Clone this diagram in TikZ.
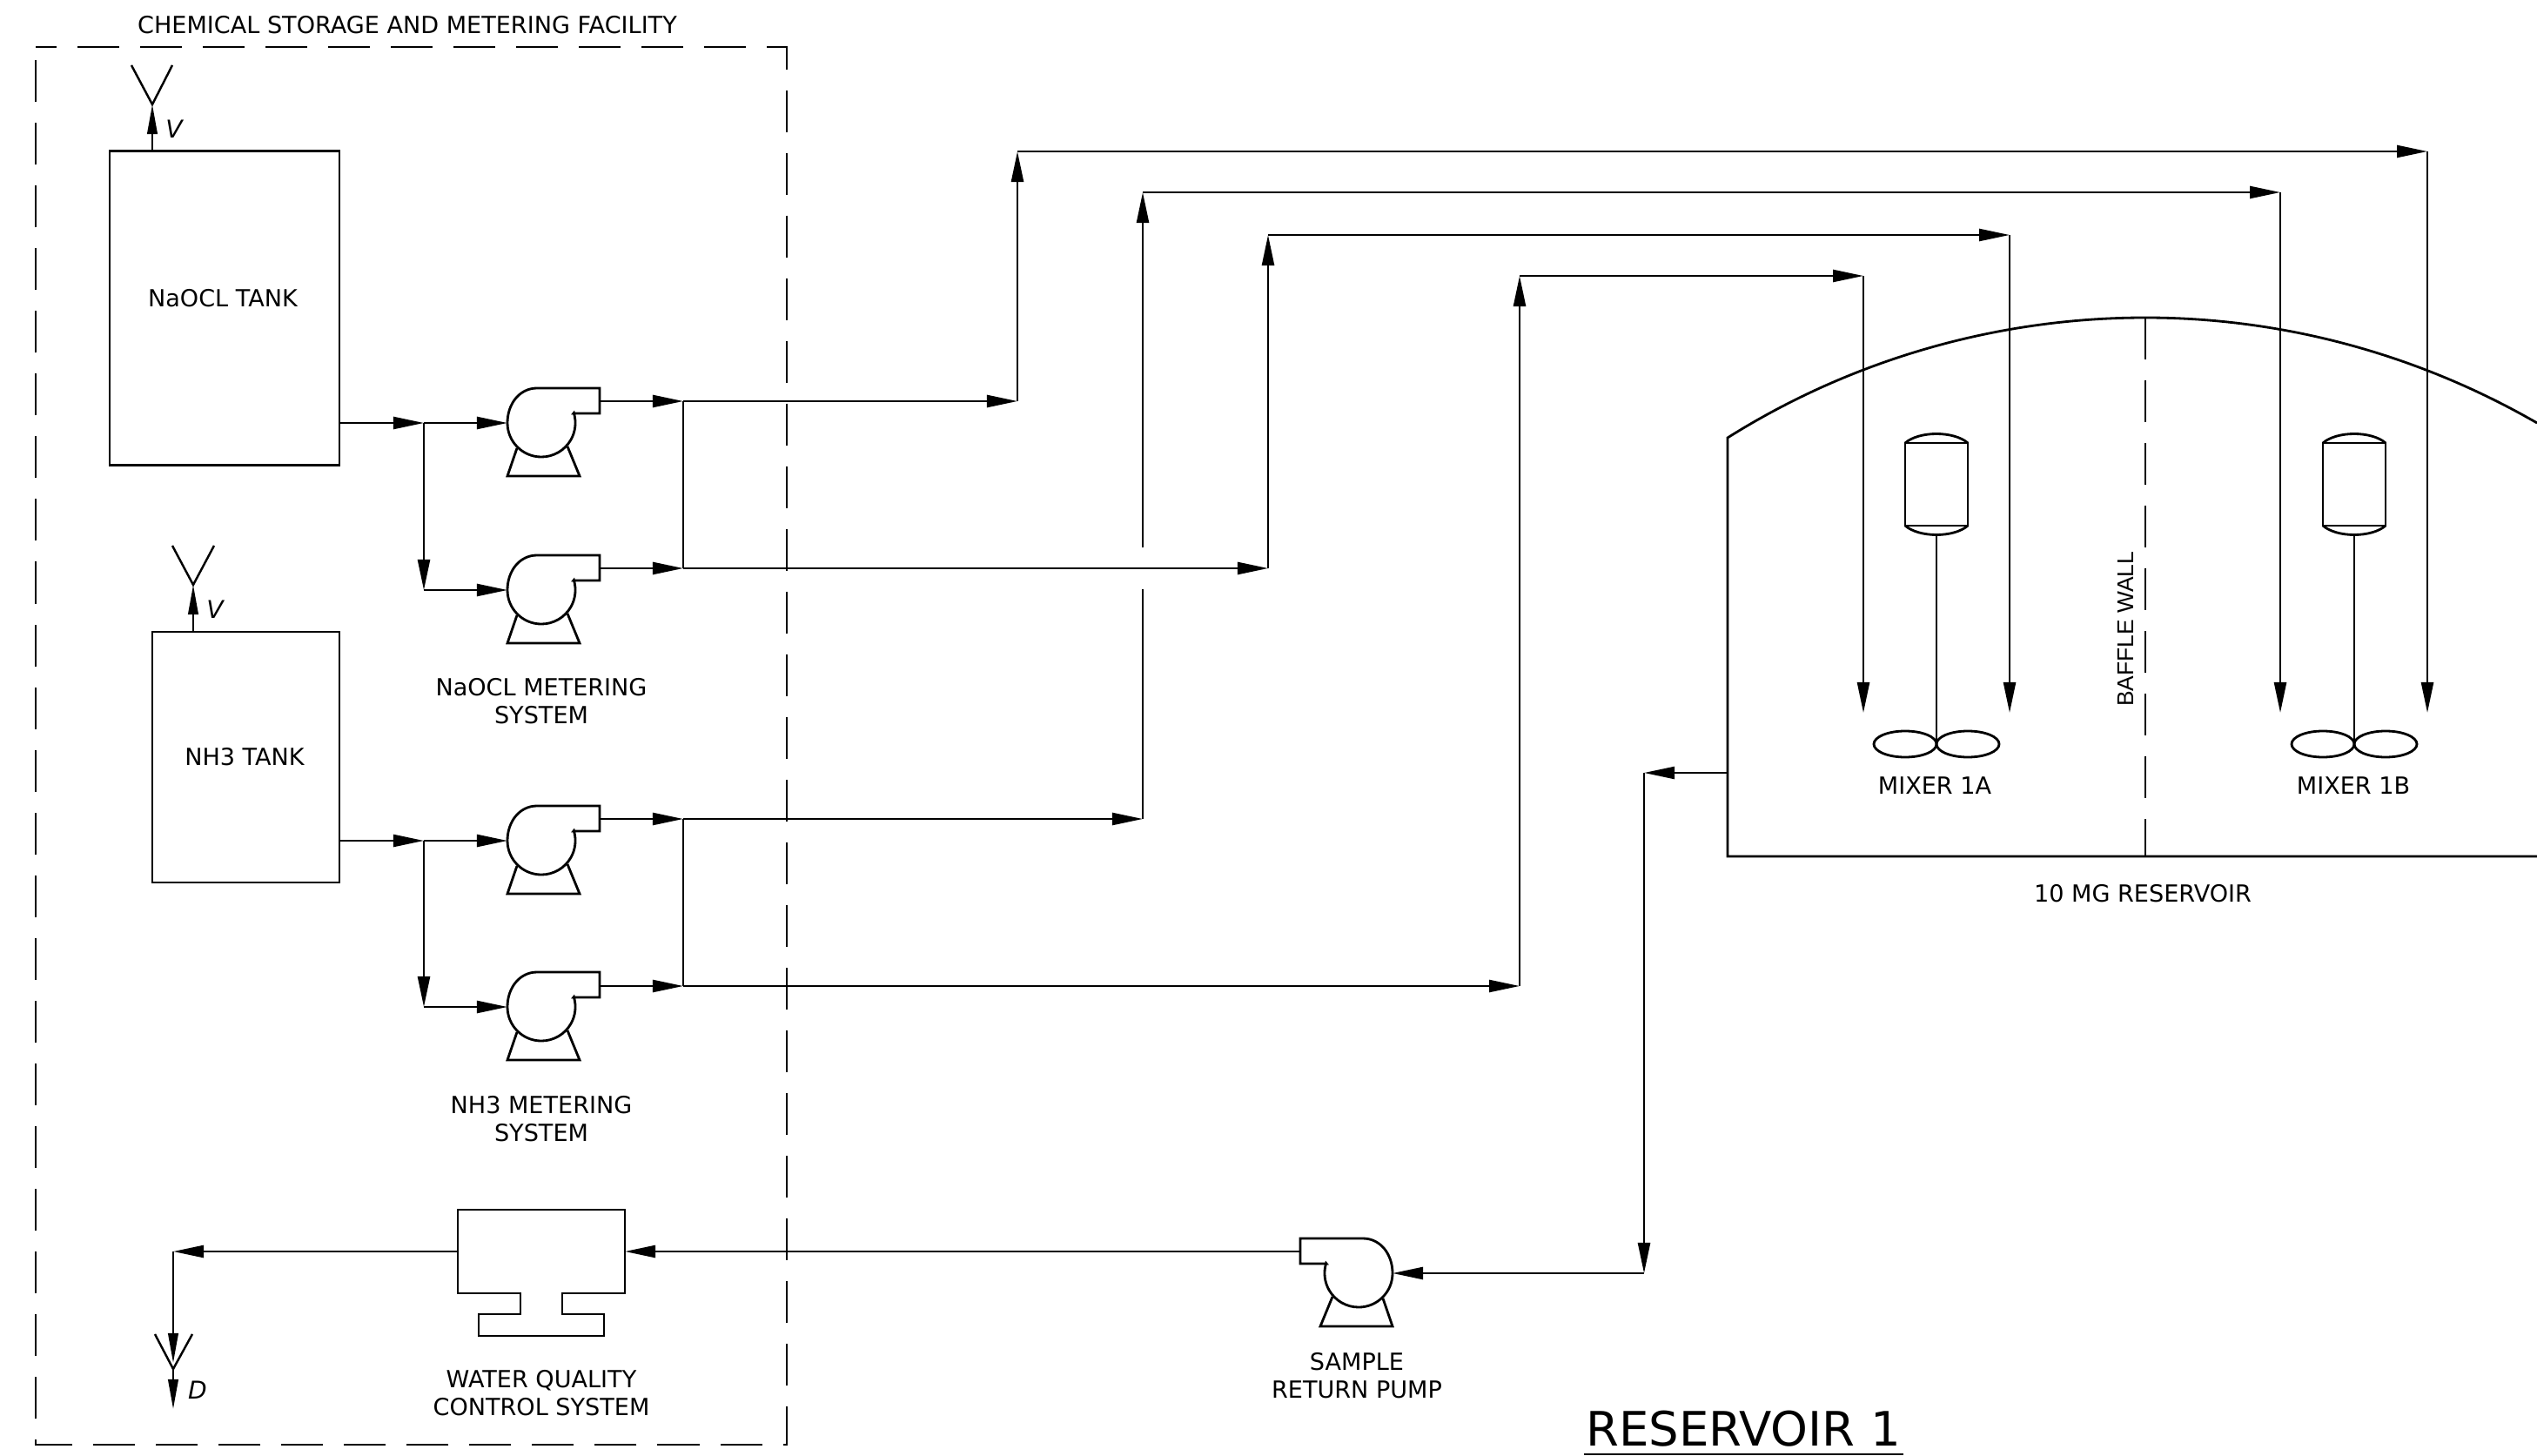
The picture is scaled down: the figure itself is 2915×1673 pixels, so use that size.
\documentclass[tikz,border=0pt]{standalone}
\usepackage{fontspec}
\setmainfont{DejaVu Sans}
\newfontfamily\bafflefont{Liberation Sans}
\usetikzlibrary{arrows.meta, positioning}

\tikzset{
    pics/pump/.style={code={
        \draw[symline] (-39,0) arc[start angle=180, end angle=377, radius=0.39cm] -- (37,-11) -- (67,-11) -- (67,-40) -- (-5,-40)
            .. controls (-25,-40) and (-39,-22) .. (-39,0) -- cycle;
        \draw[symline] (-28,29) -- (-39,61) -- (44,61) -- (30,27);
        \coordinate (-in) at (-39,0);
        \coordinate (-out) at (67,-25);
    }},
    pics/mixer/.style={code={
        \draw[symline] (-36,-105) rectangle (36,-10);
        \draw[symline] (-36,-105) .. controls (-20,-119) and (20,-119) .. (36,-105);
        \draw[symline] (-36,-10) .. controls (-20,4) and (20,4) .. (36,-10);
        \draw[symline] (0,0) -- (0,241);
        \draw[symline] (-36,241) ellipse[x radius=0.36cm, y radius=0.15cm];
        \draw[symline] (36,241) ellipse[x radius=0.36cm, y radius=0.15cm];
    }},
    pics/qualunit/.style={code={
        \draw[symline] (-96,-48) -- (96,-48) -- (96,48) -- (24,48) -- (24,72) -- (72,72) -- (72,97) -- (-72,97) -- (-72,72) -- (-24,72) -- (-24,48) -- (-96,48) -- cycle;
        \coordinate (-east) at (96,0);
        \coordinate (-west) at (-96,0);
    }}
}

\begin{document}
\begin{tikzpicture}[
    x=0.01cm, y=-0.01cm,
    symline/.style={line width=0.8pt},
    tank/.style={rectangle, draw, line width=0.8pt, inner sep=0pt, outer sep=0pt},
    lbl/.style={font=\fontsize{7.7}{9.1}\selectfont, align=center, inner sep=0pt},
    tag/.style={font=\fontsize{8}{9.1}\selectfont\itshape, inner sep=0pt},
    arrow/.style={-{Triangle[length=3.5mm,width=1.4mm]}, line width=0.7pt},
    ventarrow/.style={-{Triangle[length=3.4mm,width=1.15mm]}, line width=0.7pt},
    plainline/.style={line width=0.7pt},
    boundary/.style={line width=0.75pt, dash pattern=on 0.48cm off 0.24cm}
]
\useasboundingbox (0,0) rectangle (2915,1673);

% --- Facility boundary ---
\draw[boundary, dash phase=0.24cm] (41,54) -- (904,54) -- (904,1660) -- (41,1660) -- cycle;
\node[lbl] (facility) at (468,29) {CHEMICAL STORAGE AND METERING FACILITY};

% --- Tanks ---
\node[tank, minimum width=2.64cm, minimum height=3.6cm] (naocl) at (258,354) {};
\node[lbl] (naocllbl) at (256,343) {NaOCL TANK};
\node[tank, minimum width=2.15cm, minimum height=2.88cm] (nh3) at (282.5,870) {};
\node[lbl] (nh3lbl) at (281,870) {NH3 TANK};

% --- Vents ---
\coordinate (ventA) at (175,120);
\coordinate (ventB) at (222,672);
\draw[plainline] (151,75) -- (ventA) -- (198,75);
\draw[plainline] (198,627) -- (ventB) -- (246,627);
\draw[ventarrow] (ventA |- naocl.north) -- (ventA);
\draw[ventarrow] (ventB |- nh3.north) -- (ventB);
\node[tag] (ventAlbl) at (200,148) {V};
\node[tag] (ventBlbl) at (247,700) {V};

% --- Pumps ---
\pic (pumpA) at (622,486) {pump};
\pic (pumpB) at (622,678) {pump};
\pic (pumpC) at (622,966) {pump};
\pic (pumpD) at (622,1157) {pump};
\pic[xscale=-1] (pumpS) at (1561,1463) {pump};
\node[lbl] (meterA) at (622,806) {NaOCL METERING\\SYSTEM};
\node[lbl] (meterB) at (622,1286) {NH3 METERING\\SYSTEM};
\node[lbl] (pumpSlbl) at (1559,1581) {SAMPLE\\RETURN PUMP};

% --- Suction headers ---
\coordinate (teeA) at (487,486);
\coordinate (teeB) at (487,966);
\draw[arrow] (naocl.east |- teeA) -- (teeA);
\draw[arrow] (teeA) -- (pumpA-in);
\draw[arrow] (teeA) -- (teeA |- pumpB-in);
\draw[arrow] (teeA |- pumpB-in) -- (pumpB-in);
\draw[arrow] (nh3.east |- teeB) -- (teeB);
\draw[arrow] (teeB) -- (pumpC-in);
\draw[arrow] (teeB) -- (teeB |- pumpD-in);
\draw[arrow] (teeB |- pumpD-in) -- (pumpD-in);

% --- Discharge headers ---
\coordinate (busA) at (785,461);
\coordinate (busB) at (785,653);
\coordinate (busC) at (785,941);
\coordinate (busD) at (785,1133);
\draw[arrow] (pumpA-out) -- (busA);
\draw[arrow] (pumpB-out) -- (busB);
\draw[arrow] (pumpC-out) -- (busC);
\draw[arrow] (pumpD-out |- busD) -- (busD);
\draw[plainline] (busA) -- (busB);
\draw[plainline] (busC) -- (busD);

% --- Feed lines to the mixers ---
\coordinate (bendA) at (1169,461);
\coordinate (riseA) at (1169,174);
\coordinate (overA) at (2789,174);
\coordinate (dropA) at (2789,819);
\draw[arrow] (busA) -- (bendA);
\draw[arrow] (bendA) -- (riseA);
\draw[arrow] (riseA) -- (overA);
\draw[arrow] (overA) -- (dropA);

\coordinate (bendB) at (1457,653);
\coordinate (riseB) at (1457,270);
\coordinate (overB) at (2309,270);
\coordinate (dropB) at (2309,819);
\draw[arrow] (busB) -- (bendB);
\draw[arrow] (bendB) -- (riseB);
\draw[arrow] (riseB) -- (overB);
\draw[arrow] (overB) -- (dropB);

\coordinate (bendC) at (1313,941);
\coordinate (gapC1) at (1313,677);
\coordinate (gapC2) at (1313,629);
\coordinate (riseC) at (1313,221);
\coordinate (overC) at (2620,221);
\coordinate (dropC) at (2620,819);
\draw[arrow] (busC) -- (bendC);
\draw[plainline] (bendC) -- (gapC1);
\draw[arrow] (gapC2) -- (riseC);
\draw[arrow] (riseC) -- (overC);
\draw[arrow] (overC) -- (dropC);

\coordinate (bendD) at (1746,1133);
\coordinate (riseD) at (1746,317);
\coordinate (overD) at (2141,317);
\coordinate (dropD) at (2141,819);
\draw[arrow] (busD) -- (bendD);
\draw[arrow] (bendD) -- (riseD);
\draw[arrow] (riseD) -- (overD);
\draw[arrow] (overD) -- (dropD);

% --- Reservoir ---
\coordinate (resTL) at (1985,503);
\coordinate (resBL) at (1985,984);
\coordinate (resBR) at (2915,984);
\coordinate (resTop) at (2465,365);
\coordinate (resTR) at (2915,486);
\draw[symline] (resBR) -- (resBL) -- (resTL)
    .. controls (2128,413) and (2295,365) .. (resTop)
    .. controls (2623,365) and (2778,407) .. (resTR);
\draw[boundary] (resTop) -- (resTop |- resBL);
\pic (mixerA) at (2225,614) {mixer};
\pic (mixerB) at (2705,614) {mixer};
\node[lbl] (mixerAlbl) at (2223,903) {MIXER 1A};
\node[lbl] (mixerBlbl) at (2704,903) {MIXER 1B};
\node[lbl] (reslbl) at (2462,1027) {10 MG RESERVOIR};
\node[rotate=90, inner sep=0pt, font=\fontsize{7.5}{9}\selectfont\bafflefont] (bafflelbl) at (2442,723) {BAFFLE WALL};

% --- Sample line ---
\coordinate (sampleA) at (1889,888);
\coordinate (sampleB) at (1889,1463);
\draw[arrow] (resBL |- sampleA) -- (sampleA);
\draw[arrow] (sampleA) -- (sampleB);
\draw[arrow] (sampleB) -- (pumpS-in);

% --- Water quality control ---
\pic (wqc) at (622,1438) {qualunit};
\node[lbl] (wqclbl) at (622,1601) {WATER QUALITY\\CONTROL SYSTEM};
\coordinate (drainA) at (199,1438);
\coordinate (drainB) at (199,1566);
\coordinate (drainC) at (199,1573);
\coordinate (drainD) at (199,1619);
\draw[arrow] (pumpS-out) -- (wqc-east);
\draw[arrow] (wqc-west) -- (drainA);
\draw[ventarrow] (drainA) -- (drainB);
\draw[plainline] (178,1533) -- (drainC) -- (221,1533);
\draw[ventarrow] (drainC) -- (drainD);
\node[tag] (drainlbl) at (227,1597) {D};

% --- Title ---
\node[font=\fontsize{15.5}{18}\selectfont, inner sep=0pt] (title) at (2003,1642) {RESERVOIR 1};
\draw[plainline] (1820,1671) -- (2187,1671);

\end{tikzpicture}
\end{document}
